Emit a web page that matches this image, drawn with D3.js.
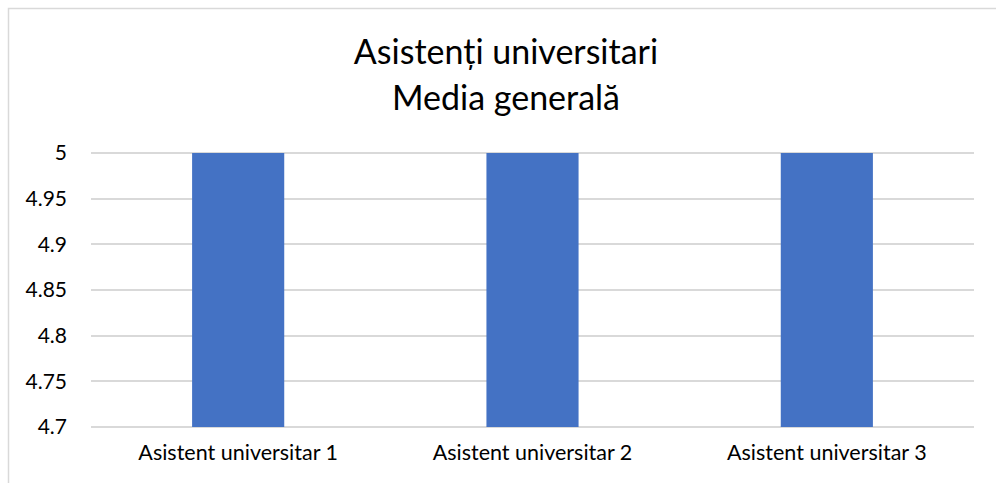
<html>
<head>
    <meta charset="utf-8">
    <title>Asistenti universitari</title>
    <style>
        body { margin: 0; background: #fff; }
        .axis text { font: 21px Lato, "Open Sans", sans-serif; fill: #000; }
        .x.axis text { font-size: 21.5px; }
        .axis path, .axis line { display: none; }
        .grid line { stroke: #d9d9d9; stroke-width: 2; shape-rendering: crispEdges; }
    </style>
    <script src="https://d3js.org/d3.v7.min.js"></script>
</head>
<body>
<script>
    var categories = ["Asistent universitar 1", "Asistent universitar 2", "Asistent universitar 3"];
    var values = [5, 5, 5];
    var yTicks = [4.7, 4.75, 4.8, 4.85, 4.9, 4.95, 5];
    var titleLines = ["Asistenți universitari", "Media generală"];

    var W = 996, H = 483;
    var margin = {top: 153, right: 22, bottom: 56, left: 91},
        width = W - margin.left - margin.right,
        height = H - margin.top - margin.bottom;

    var svg = d3.select("body").append("svg")
        .attr("width", W)
        .attr("height", H);

    // chart border (runs off the right and bottom)
    svg.append("rect")
        .attr("x", 8.5).attr("y", 8.5)
        .attr("width", W).attr("height", H)
        .attr("fill", "none")
        .attr("stroke", "#d9d9d9")
        .attr("stroke-width", 1.5);

    svg.append("text")
        .attr("text-anchor", "middle")
        .style("font", "34px Lato, 'Open Sans', sans-serif")
        .selectAll("tspan")
        .data(titleLines)
        .enter()
        .append("tspan")
        .attr("x", 506)
        .attr("y", function(d, i) { return 64 + i * 46; })
        .text(function(d) { return d; });

    var g = svg.append("g")
        .attr("transform", "translate(" + margin.left + "," + margin.top + ")");

    var x = d3.scaleBand()
        .domain(categories)
        .range([0, width])
        .paddingInner(0.687)
        .paddingOuter(0.3435);

    var y = d3.scaleLinear()
        .domain([4.7, 5])
        .range([height, 0]);

    g.append("g")
        .attr("class", "grid")
        .selectAll("line")
        .data(yTicks)
        .enter()
        .append("line")
        .attr("x1", 0)
        .attr("x2", width)
        .attr("y1", function(d) { return Math.round(y(d)); })
        .attr("y2", function(d) { return Math.round(y(d)); });

    g.selectAll(".bar")
        .data(values)
        .enter()
        .append("rect")
        .attr("class", "bar")
        .attr("x", function(d, i) { return x(categories[i]); })
        .attr("y", function(d) { return y(d); })
        .attr("width", x.bandwidth())
        .attr("height", function(d) { return height - y(d); })
        .attr("fill", "#4472c4");

    g.append("g")
        .attr("class", "y axis")
        .call(d3.axisLeft(y).tickValues(yTicks).tickFormat(d3.format("")).tickSize(0).tickPadding(24));

    g.append("g")
        .attr("class", "x axis")
        .attr("transform", "translate(0," + height + ")")
        .call(d3.axisBottom(x).tickSize(0).tickPadding(18));
</script>
</body>
</html>
